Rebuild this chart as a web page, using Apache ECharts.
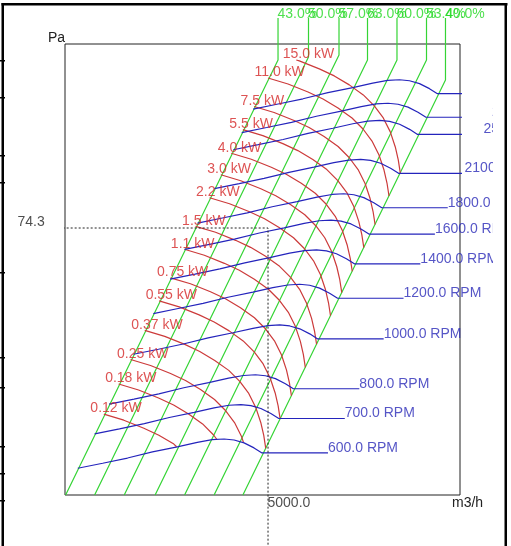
<!DOCTYPE html>
<html><head><meta charset="utf-8">
<script src="https://cdn.jsdelivr.net/npm/echarts@6.0.0/dist/echarts.min.js"></script>
<style>html,body{margin:0;padding:0;background:#fff}#c{width:511px;height:546px}</style>
</head><body><div id="c"></div><script>
// ---- axis ranges (log-log) ----
const flowMin = 776.5, flowMax = 29097;
const presMin = 6.793, presMax = 386.4;

// ---- operating point ----
const opFlow = 5000;
const opPressure = 74.3;

// ---- fan curves (blue) ----
const rpmLabels = ['600.0 RPM','700.0 RPM','800.0 RPM','1000.0 RPM','1200.0 RPM','1400.0 RPM','1600.0 RPM','1800.0 RPM','2100.0 RPM','2500.0 RPM','2700.0 RPM','3000.0 RPM'];
const rpmFlows = [
  [873,1097,1378,1732,2176,2613,2995,3343,3663,4014,4398,4731],
  [1019,1280,1608,2021,2539,3049,3494,3900,4274,4683,5131,5520],
  [1164,1463,1837,2309,2901,3484,3993,4457,4884,5352,5864,6308],
  [1455,1828,2297,2887,3627,4355,4992,5572,6105,6690,7330,7885],
  [1746,2194,2756,3464,4352,5226,5990,6686,7326,8028,8796,9462],
  [2037,2560,3215,4041,5077,6097,6988,7800,8547,9366,10262,11039],
  [2328,2925,3675,4619,5803,6968,7987,8915,9768,10704,11728,12616],
  [2619,3291,4134,5196,6528,7839,8985,10029,10989,12042,13194,14193],
  [3056,3840,4823,6062,7616,9146,10483,11701,12821,14049,15393,16559],
  [3638,4571,5742,7217,9067,10888,12479,13929,15263,16725,18325,19713],
  [3929,4937,6201,7794,9792,11759,13478,15044,16484,18063,19791,21290],
  [4365,5485,6890,8660,10880,13065,14975,16715,18315,20070,21990,23655]
];
const rpmPressures = [
  [8.63,9.03,9.46,9.99,10.46,10.89,11.15,11.22,11.12,10.84,10.36,9.90],
  [11.75,12.29,12.88,13.60,14.24,14.82,15.18,15.27,15.14,14.75,14.10,13.48],
  [15.34,16.05,16.82,17.76,18.60,19.36,19.82,19.95,19.77,19.27,18.42,17.60],
  [23.97,25.08,26.28,27.75,29.06,30.25,30.97,31.17,30.89,30.11,28.78,27.50],
  [34.52,36.12,37.84,39.96,41.84,43.56,44.60,44.88,44.48,43.36,41.44,39.60],
  [46.99,49.16,51.50,54.39,56.95,59.29,60.71,61.09,60.54,59.02,56.40,53.90],
  [61.37,64.21,67.27,71.04,74.38,77.44,79.29,79.79,79.08,77.08,73.67,70.40],
  [77.67,81.27,85.14,89.91,94.14,98.01,100.35,100.98,100.08,97.56,93.24,89.10],
  [105.72,110.62,115.89,122.38,128.14,133.40,136.59,137.45,136.22,132.79,126.91,121.28],
  [149.83,156.77,164.24,173.44,181.60,189.06,193.58,194.79,193.06,188.19,179.86,171.88],
  [174.76,182.86,191.57,202.30,211.82,220.52,225.79,227.21,225.18,219.51,209.79,200.48],
  [215.75,225.75,236.50,249.75,261.50,272.25,278.75,280.50,278.00,271.00,259.00,247.50]
];
const rpmLeaderFlows = [8667,10112,11556,14445,17334,20223,23113,26002,30335,36113,39002,43336];

// ---- power curves (red) ----
const powerLabels = ['15.0 kW','11.0 kW','7.5 kW','5.5 kW','4.0 kW','3.0 kW','2.2 kW','1.5 kW','1.1 kW','0.75 kW','0.55 kW','0.37 kW','0.25 kW','0.18 kW','0.12 kW'];
const powerFlows = [
  [6480,6662,8004,9184,10538,11984,13256,14395,15350,16071,16516,16822],
  [5000,6007,7217,8281,9502,10806,11953,12980,13841,14491,14893,15169],
  [4401,5287,6352,7288,8363,9510,10520,11424,12182,12754,13107,13350],
  [3969,4768,5728,6573,7542,8577,9487,10302,10986,11502,11821,12040],
  [3569,4288,5152,5911,6783,7713,8532,9265,9880,10344,10631,10828],
  [3242,3895,4680,5369,6161,7007,7750,8416,8975,9396,9657,9836],
  [2924,3513,4221,4843,5557,6319,6990,7591,8094,8474,8709,8871],
  [2573,3091,3714,4261,4890,5561,6151,6680,7123,7457,7664,7806],
  [2321,2788,3350,3844,4411,5016,5549,6025,6425,6727,6913,7041],
  [2043,2455,2949,3384,3883,4415,4884,5304,5655,5921,6085,6198],
  [1842,2213,2659,3051,3501,3981,4404,4782,5099,5339,5487,5588],
  [1614,1939,2330,2673,3067,3488,3858,4190,4468,4678,4808,4897],
  [1417,1702,2045,2346,2692,3061,3386,3677,3921,3992],
  [1270,1525,1832,2103,2413,2744,3035,3129],
  [1109,1332,1601,1837,2108,2162]
];
const powerPressures = [
  [334.7,332.1,309.1,290.3,267.9,244.9,221.9,199.2,175.8,153.6,136.8,121.8],
  [284.9,270.0,251.3,236.0,217.8,199.1,180.4,162.0,142.9,124.9,111.2,99.0],
  [220.68,209.14,194.66,182.81,168.71,154.22,139.74,125.49,110.69,96.75,86.14,76.69],
  [179.49,170.10,158.32,148.68,137.21,125.43,113.65,102.06,90.03,78.69,70.06,62.37],
  [145.16,137.57,128.04,120.24,110.97,101.44,91.91,82.54,72.81,63.64,56.66,50.44],
  [119.77,113.51,105.65,99.21,91.56,83.70,75.84,68.10,60.08,52.51,46.75,41.62],
  [97.44,92.34,85.94,80.71,74.49,68.09,61.70,55.40,48.87,42.72,38.03,33.86],
  [75.44,71.50,66.54,62.49,57.67,52.72,47.77,42.90,37.84,33.07,29.45,26.22],
  [61.40,58.19,54.15,50.86,46.94,42.91,38.88,34.91,30.79,26.92,23.96,21.33],
  [47.56,45.08,41.95,39.40,36.36,33.24,30.12,27.05,23.86,20.85,18.56,16.53],
  [38.67,36.64,34.11,32.03,29.56,27.02,24.48,21.99,19.39,16.95,15.09,13.44],
  [29.69,28.13,26.19,24.59,22.69,20.75,18.80,16.88,14.89,13.01,11.59,10.32],
  [22.87,21.67,20.17,18.94,17.48,15.98,14.48,13.00,11.47,10.88],
  [18.37,17.41,16.20,15.21,14.04,12.84,11.63,11.17],
  [14.02,13.28,12.36,11.61,10.72,10.47]
];

// ---- efficiency / system lines (green) ----
const effLabels = ['43.0%','50.0%','57.0%','63.0%','60.0%','53.4%','40.0%'];
const effFlows = [
  [781,5481,5481],
  [1019,7249,7249],
  [1337,9589,9589],
  [1775,12455,12455],
  [2326,16322,16322],
  [3049,21400,21400],
  [3971,25469,25469]
];
const effPressures = [
  [6.793,334.7,487.6],
  [6.793,343.9,487.6],
  [6.793,350.1,487.6],
  [6.793,334.7,487.6],
  [6.793,334.7,487.6],
  [6.793,334.7,487.6],
  [6.793,279.8,487.6]
];

// ---- crosshair extents ----
const crossFlowLeft = 504.5;
const crossPresBottom = 4.2;

const FONT = 'Liberation Sans, Arial, sans-serif';
const GREEN = '#35d435', GREEN_T = '#22d822';
const RED = '#cc3a3a', RED_T = '#d42828';
const BLUE = '#2424bc', BLUE_T = '#2a2ab8';
const INK = '#222';
const LW = 1.2;

const zip = (a, b) => a.map((v, i) => [v, b[i]]);
const series = [];

effFlows.forEach((q, i) => series.push({
  type: 'line', data: zip(q, effPressures[i]), symbol: 'none', clip: false, silent: true,
  animation: false, lineStyle: { color: GREEN, width: LW }, z: 2
}));
powerFlows.forEach((q, i) => series.push({
  type: 'line', data: zip(q, powerPressures[i]), symbol: 'none', clip: false, silent: true,
  animation: false, lineStyle: { color: RED, width: LW }, z: 3
}));
rpmFlows.forEach((q, i) => {
  const p = rpmPressures[i];
  const d = zip(q, p).concat([[rpmLeaderFlows[i], p[p.length - 1]]]);
  series.push({
    type: 'line', data: d, symbol: 'none', clip: false, silent: true,
    animation: false, lineStyle: { color: BLUE, width: LW }, z: 4
  });
});
// crosshair
series.push({
  type: 'line', data: [[opFlow, crossPresBottom], [opFlow, opPressure], [crossFlowLeft, opPressure]],
  symbol: 'none', clip: false, silent: true, animation: false,
  lineStyle: { color: INK, width: 1, type: [2, 2] }, z: 5
});

const labelSeries = (data, names, pos, color) => ({
  type: 'scatter', data: data, symbolSize: 1, clip: false, silent: true, animation: false,
  itemStyle: { color: 'rgba(0,0,0,0)' }, z: 6,
  label: {
    show: true, position: pos, align: 'left', verticalAlign: 'top',
    formatter: (p) => names[p.dataIndex], color: color, fontSize: 14, fontFamily: FONT
  }
});

series.push(labelSeries(rpmLeaderFlows.map((q, i) => [q, rpmPressures[i][rpmPressures[i].length - 1]]), rpmLabels, [0.5, -11.5], BLUE_T));
series.push(labelSeries(powerFlows.map((q, i) => [q[0], powerPressures[i][0]]), powerLabels, [-13, -12], RED_T));
series.push(labelSeries(effFlows.map((q, i) => [q[2], effPressures[i][2]]), effLabels, [0, -10], GREEN_T));
series.push(labelSeries([[crossFlowLeft, opPressure]], [opPressure.toFixed(1)], [0, -12], INK));
series.push(labelSeries([[opFlow, presMin]], [opFlow.toFixed(1)], [0, 1.5], INK));

const ticksY = [60, 97, 155, 182, 272, 357, 387, 446, 473, 500];
const graphic = [
  { type: 'rect', shape: { x: 493, y: 6, width: 18, height: 540 }, style: { fill: '#fff' }, z: 100, silent: true },
  { type: 'rect', shape: { x: 1.5, y: 3, width: 2.5, height: 543 }, style: { fill: '#000' }, z: 101, silent: true },
  { type: 'rect', shape: { x: 1.5, y: 3, width: 506, height: 2.5 }, style: { fill: '#000' }, z: 101, silent: true },
  { type: 'rect', shape: { x: 504.5, y: 3, width: 2.5, height: 543 }, style: { fill: '#000' }, z: 101, silent: true }
].concat(ticksY.map(t => ({ type: 'rect', shape: { x: 0, y: t, width: 5, height: 1.5 }, style: { fill: '#000' }, z: 101, silent: true })));

const chart = echarts.init(document.getElementById('c'), null, { renderer: 'canvas' });
chart.setOption({
  animation: false,
  backgroundColor: '#fff',
  grid: { left: 65, top: 44, width: 395, height: 451, show: true, borderColor: '#222', borderWidth: 1, backgroundColor: 'rgba(0,0,0,0)', outerBoundsMode: 'none', containLabel: false },
  xAxis: {
    type: 'log', min: flowMin, max: flowMax,
    axisLine: { show: false }, axisTick: { show: false }, axisLabel: { show: false }, splitLine: { show: false },
    name: 'm3/h', nameLocation: 'end', nameGap: -8,
    nameTextStyle: { color: INK, fontSize: 14, fontFamily: FONT, align: 'left', verticalAlign: 'top', padding: [1, 0, 0, 0] }
  },
  yAxis: {
    type: 'log', min: presMin, max: presMax,
    axisLine: { show: false }, axisTick: { show: false }, axisLabel: { show: false }, splitLine: { show: false },
    name: 'Pa', nameLocation: 'end', nameGap: -1,
    nameTextStyle: { color: INK, fontSize: 14, fontFamily: FONT, align: 'right', verticalAlign: 'bottom' }
  },
  graphic: graphic,
  series: series
});
</script></body></html>
